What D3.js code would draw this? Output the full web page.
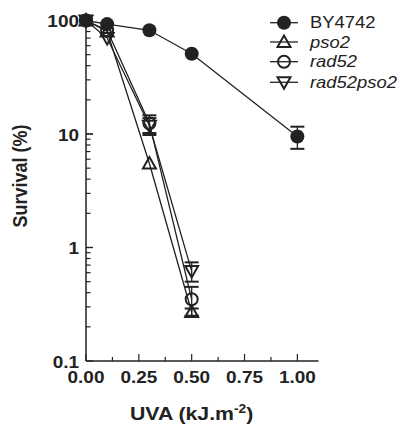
<!DOCTYPE html>
<html><head><meta charset="utf-8">
<script src="https://cdn.jsdelivr.net/npm/d3@7"></script>
<style>body{margin:0;background:#fff}svg{display:block}text{font-family:"Liberation Sans",Arial,sans-serif}</style>
</head><body><svg id="c" width="406" height="425"></svg>
<script>
const doses = [0, 0.1, 0.3, 0.5];
const dosesWT = [0, 0.1, 0.3, 0.5, 1.0];
const seriesNames = ["BY4742", "pso2", "rad52", "rad52pso2"];
const by4742 = [100, 93, 82, 51, 9.5];
const by4742Err = [0, 0, 0, 0, 2.1];
const pso2 = [100, 80, 5.5, 0.27];
const pso2Err = [0, 0, 0, 0.02];
const rad52 = [100, 82, 12.4, 0.35];
const rad52Err = [0, 0, 2.2, 0.1];
const rad52pso2 = [100, 70, 11.8, 0.62];
const rad52pso2Err = [0, 0, 2.0, 0.12];
const xTicks = [0, 0.25, 0.5, 0.75, 1.0];
const yTicks = [0.1, 1, 10, 100];

const svg = d3.select("#c");
const x = d3.scaleLinear().domain([0, 1.1]).range([86, 318.5]);
const y = d3.scaleLog().domain([0.1, 100]).range([361, 20.5]);
const g = svg.append("g");
const SX = 1.15;

function stext(px, py, str, opts) {
  const gg = g.append("g").attr("transform", `translate(${px},${py}) scale(${SX},1)` + (opts.rotate ? ` rotate(${opts.rotate})` : ""));
  const t = gg.append("text").attr("x", 0).attr("y", 0).attr("text-anchor", opts.anchor || "start")
    .attr("font-size", opts.size).attr("font-weight", opts.bold ? "bold" : "normal")
    .attr("font-style", opts.italic ? "italic" : "normal").attr("fill", "#222");
  if (str !== null) t.text(str);
  return t;
}

// axes
const xMinor = d3.range(0, 1.126, 0.125);
g.append("line").attr("x1", x(0)).attr("x2", x(1.1)).attr("y1", y(0.1)).attr("y2", y(0.1)).attr("stroke", "#222").attr("stroke-width", 1.5);
g.append("line").attr("x1", x(0)).attr("x2", x(0)).attr("y1", y(0.1)).attr("y2", y(100)).attr("stroke", "#222").attr("stroke-width", 1.5);
xMinor.filter(v => v <= 1.1).forEach((v, i) => {
  const major = i % 2 === 0;
  g.append("line").attr("x1", x(v)).attr("x2", x(v)).attr("y1", y(0.1)).attr("y2", y(0.1) - (major ? 7 : 4)).attr("stroke", "#222").attr("stroke-width", 1.2);
});
xTicks.forEach(v => {
  stext(x(v), 383, d3.format(".2f")(v), { anchor: "middle", size: 16.5, bold: true });
});
for (let d = 0.1; d < 100; d *= 10) {
  for (let k = 1; k <= 10; k++) {
    const v = d * k;
    const major = k === 1 || k === 10;
    g.append("line").attr("x1", x(0)).attr("x2", x(0) + (major ? 7 : 4.5)).attr("y1", y(v)).attr("y2", y(v)).attr("stroke", "#222").attr("stroke-width", 1.2);
  }
}
yTicks.forEach(v => {
  stext(79, y(v) + 6.5, String(v), { anchor: "end", size: 16.5, bold: true });
});
stext(27, 176, "Survival (%)", { anchor: "middle", size: 18, bold: true, rotate: -90 });
const xt = stext(x(0.5), 420, null, { anchor: "middle", size: 18.5, bold: true });
xt.append("tspan").text("UVA (kJ.m");
xt.append("tspan").attr("dy", -7).attr("font-size", 12).text("-2");
xt.append("tspan").attr("dy", 7).text(")");

function drawSym(sel, type, cx, cy) {
  if (type === "fcircle") sel.append("circle").attr("cx", cx).attr("cy", cy).attr("r", 7).attr("fill", "#222");
  else if (type === "ocircle") sel.append("circle").attr("cx", cx).attr("cy", cy).attr("r", 6).attr("fill", "none").attr("stroke", "#222").attr("stroke-width", 2);
  else if (type === "tup") sel.append("path").attr("d", `M${cx},${cy - 6.5}L${cx + 6.5},${cy + 5}L${cx - 6.5},${cy + 5}Z`).attr("fill", "none").attr("stroke", "#222").attr("stroke-width", 2);
  else if (type === "tdown") sel.append("path").attr("d", `M${cx},${cy + 6.5}L${cx + 6.5},${cy - 5}L${cx - 6.5},${cy - 5}Z`).attr("fill", "none").attr("stroke", "#222").attr("stroke-width", 2);
}
const series = [
  { xs: dosesWT, ys: by4742, err: by4742Err, sym: "fcircle" },
  { xs: doses, ys: pso2, err: pso2Err, sym: "tup" },
  { xs: doses, ys: rad52, err: rad52Err, sym: "ocircle" },
  { xs: doses, ys: rad52pso2, err: rad52pso2Err, sym: "tdown" }
];
const line = d3.line().x(d => x(d[0])).y(d => y(d[1]));
series.forEach(s => {
  const pts = s.xs.map((v, i) => [v, s.ys[i]]);
  g.append("path").attr("d", line(pts)).attr("fill", "none").attr("stroke", "#222").attr("stroke-width", 1.3);
});
series.forEach(s => {
  s.xs.forEach((v, i) => {
    const e = s.err[i];
    if (e > 0) {
      const cx = x(v), t = y(s.ys[i] + e), b = y(s.ys[i] - e);
      g.append("line").attr("x1", cx).attr("x2", cx).attr("y1", t).attr("y2", b).attr("stroke", "#222").attr("stroke-width", 1.3);
      [t, b].forEach(yy => g.append("line").attr("x1", cx - 7).attr("x2", cx + 7).attr("y1", yy).attr("y2", yy).attr("stroke", "#222").attr("stroke-width", 2));
    }
    drawSym(g, s.sym, x(v), y(s.ys[i]));
  });
});

const legY = [22.7, 42, 61.7, 82.3];
const legSym = ["fcircle", "tup", "ocircle", "tdown"];
seriesNames.forEach((n, i) => {
  g.append("line").attr("x1", 270).attr("x2", 298).attr("y1", legY[i]).attr("y2", legY[i]).attr("stroke", "#222").attr("stroke-width", 1.3);
  drawSym(g, legSym[i], 284, legY[i]);
  stext(310, legY[i] + 5.6, n, { size: 16, italic: i !== 0 });
});
</script></body></html>
